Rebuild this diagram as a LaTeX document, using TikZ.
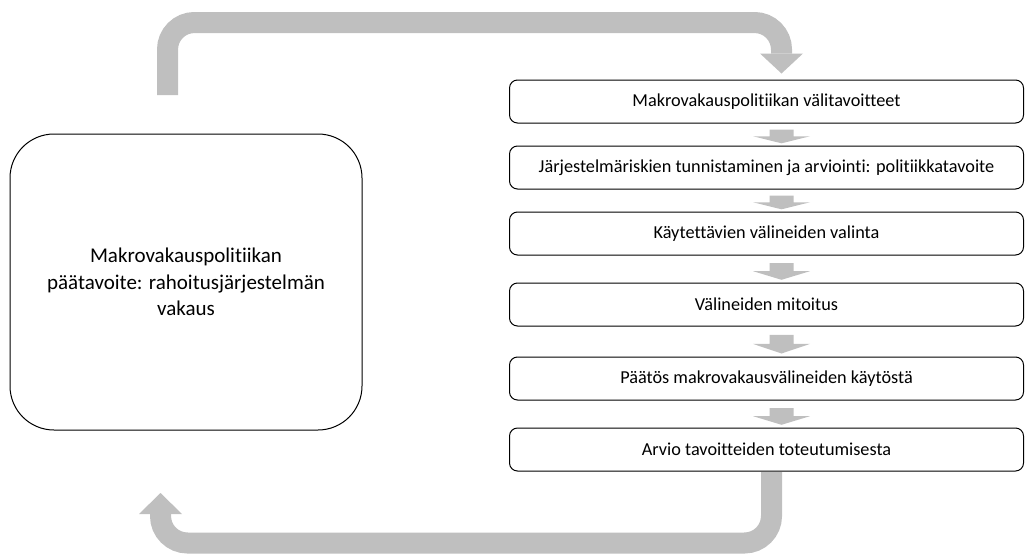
\documentclass[tikz,border=0pt]{standalone}
\usepackage{fontspec}
\setmainfont{Carlito}[Ligatures={NoCommon,NoContextual}]
\usetikzlibrary{positioning,calc}
\definecolor{uturngray}{RGB}{191,191,191}
\tikzset{
	stepbox/.style={draw=black, line width=1pt, rounded corners=8pt, minimum width=514pt, minimum height=43pt, inner sep=0pt, font=\fontsize{18.25}{22}\selectfont},
	goalbox/.style={draw=black, line width=1pt, rounded corners=44pt, minimum width=352pt, minimum height=296pt, inner sep=0pt, align=center, font=\fontsize{21}{26.5}\selectfont},
	uturn/.style={draw=uturngray, line width=21pt, rounded corners=27pt},
}
\newcommand{\stepArrow}[2]{%
	\coordinate (s) at ([xshift=15pt]$(#1.south)!0.28!(#2.north)$);
	\coordinate (h) at ([xshift=15pt]$(#1.south)!0.58!(#2.north)$);
	\coordinate (t) at ([xshift=15pt]$(#1.south)!0.9!(#2.north)$);
	\fill[uturngray] ([xshift=-12pt]s) -- ([xshift=12pt]s) -- ([xshift=12pt]h) -- ([xshift=28.5pt]h) -- (t) -- ([xshift=-28.5pt]h) -- ([xshift=-12pt]h) -- cycle;
}
\begin{document}
\begin{tikzpicture}[x=1pt, y=-1pt]
	\useasboundingbox (0,0) rectangle (1027,554);
	\node[goalbox] (goal) at (186,282) {Makrovakauspolitiikan\\päätavoite: rahoitusjärjestelmän\\vakaus};
	\node[stepbox] (valitavoite) at (766.5,101.5) {Makrovakauspolitiikan välitavoitteet};
	\node[stepbox, below=22pt of valitavoite] (riskit) {Järjestelmäriskien tunnistaminen ja arviointi: politiikkatavoite};
	\node[stepbox, below=22pt of riskit] (valinta) {Käytettävien välineiden valinta};
	\node[stepbox, below=27pt of valinta] (mitoitus) {Välineiden mitoitus};
	\node[stepbox, below=30pt of mitoitus] (paatos) {Päätös makrovakausvälineiden käytöstä};
	\node[stepbox, below=27pt of paatos] (arvio) {Arvio tavoitteiden toteutumisesta};
	\foreach \a/\b in {valitavoite/riskit, riskit/valinta, valinta/mitoitus, mitoitus/paatos, paatos/arvio}
		{\stepArrow{\a}{\b}}
	\coordinate (topstart) at (167.5,95);
	\coordinate (topend) at (781.5,53.5);
	\draw[uturn] (topstart) -- (167.5,22.5) -- (781.5,22.5) -- (topend);
	\fill[uturngray] ([xshift=-21.5pt]topend) -- ([xshift=21.5pt]topend) -- ([yshift=-20pt]topend) -- cycle;
	\coordinate (botstart) at (771.5,472);
	\coordinate (botend) at (160.5,514);
	\draw[uturn] (botstart) -- (771.5,543) -- (160.5,543) -- (botend);
	\fill[uturngray] ([xshift=-21.5pt]botend) -- ([xshift=21.5pt]botend) -- ([yshift=21pt]botend) -- cycle;
\end{tikzpicture}
\end{document}
